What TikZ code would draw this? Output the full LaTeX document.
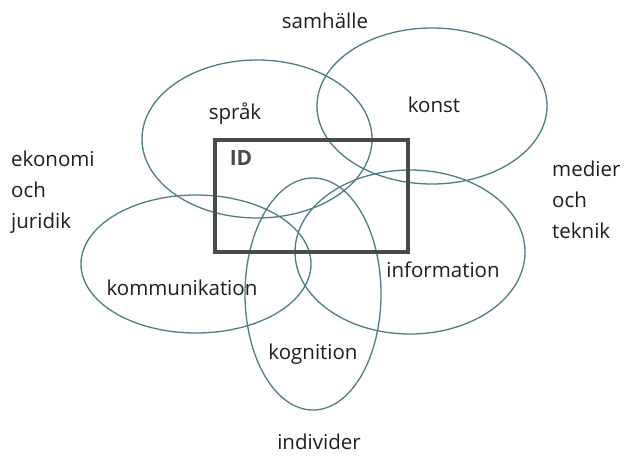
\documentclass[tikz,border=0pt]{standalone}
\usepackage{fontspec}
\setmainfont{Open Sans}
\begin{document}
\begin{tikzpicture}[x=1pt,y=-1pt,
  ring/.style={draw=ringcol,line width=1.3pt},
  lbl/.style={font=\fontsize{20.5}{31}\selectfont,text=black!88,inner sep=0pt},
  side/.style={lbl,align=left,anchor=north west,font=\fontsize{20.5}{31}\selectfont}]
\definecolor{ringcol}{HTML}{4F7D84}
\definecolor{boxcol}{HTML}{4A4A4A}
\useasboundingbox[fill=white] (0,0) rectangle (626,455);
% ellipses
\draw[ring] (257,139) ellipse [x radius=115, y radius=79];
\draw[ring] (432,106) ellipse [x radius=115, y radius=78];
\draw[ring] (410,252) ellipse [x radius=115, y radius=82];
\draw[ring] (196,264) ellipse [x radius=115, y radius=69];
\draw[ring] (313,294) ellipse [x radius=68, y radius=116];
% ID box
\draw[draw=boxcol,line width=4pt] (215,140) rectangle (408,252);
\node[lbl,font=\fontsize{21}{24}\selectfont\bfseries,text=boxcol] (id) at (241,158) {ID};
% labels
\node[lbl] (samhalle) at (325,21) {samhälle};
\node[lbl] (sprak) at (235,114) {språk};
\node[lbl] (konst) at (434,105) {konst};
\node[lbl] (information) at (443,270) {information};
\node[lbl] (kommunikation) at (182,288) {kommunikation};
\node[lbl] (kognition) at (313,354) {kognition};
\node[lbl] (individer) at (319,442) {individer};
\node[side] (ekonomi) at (11,151) {ekonomi\\och\\juridik};
\node[side] (medier) at (552,161) {medier\\och\\teknik};
\end{tikzpicture}
\end{document}
